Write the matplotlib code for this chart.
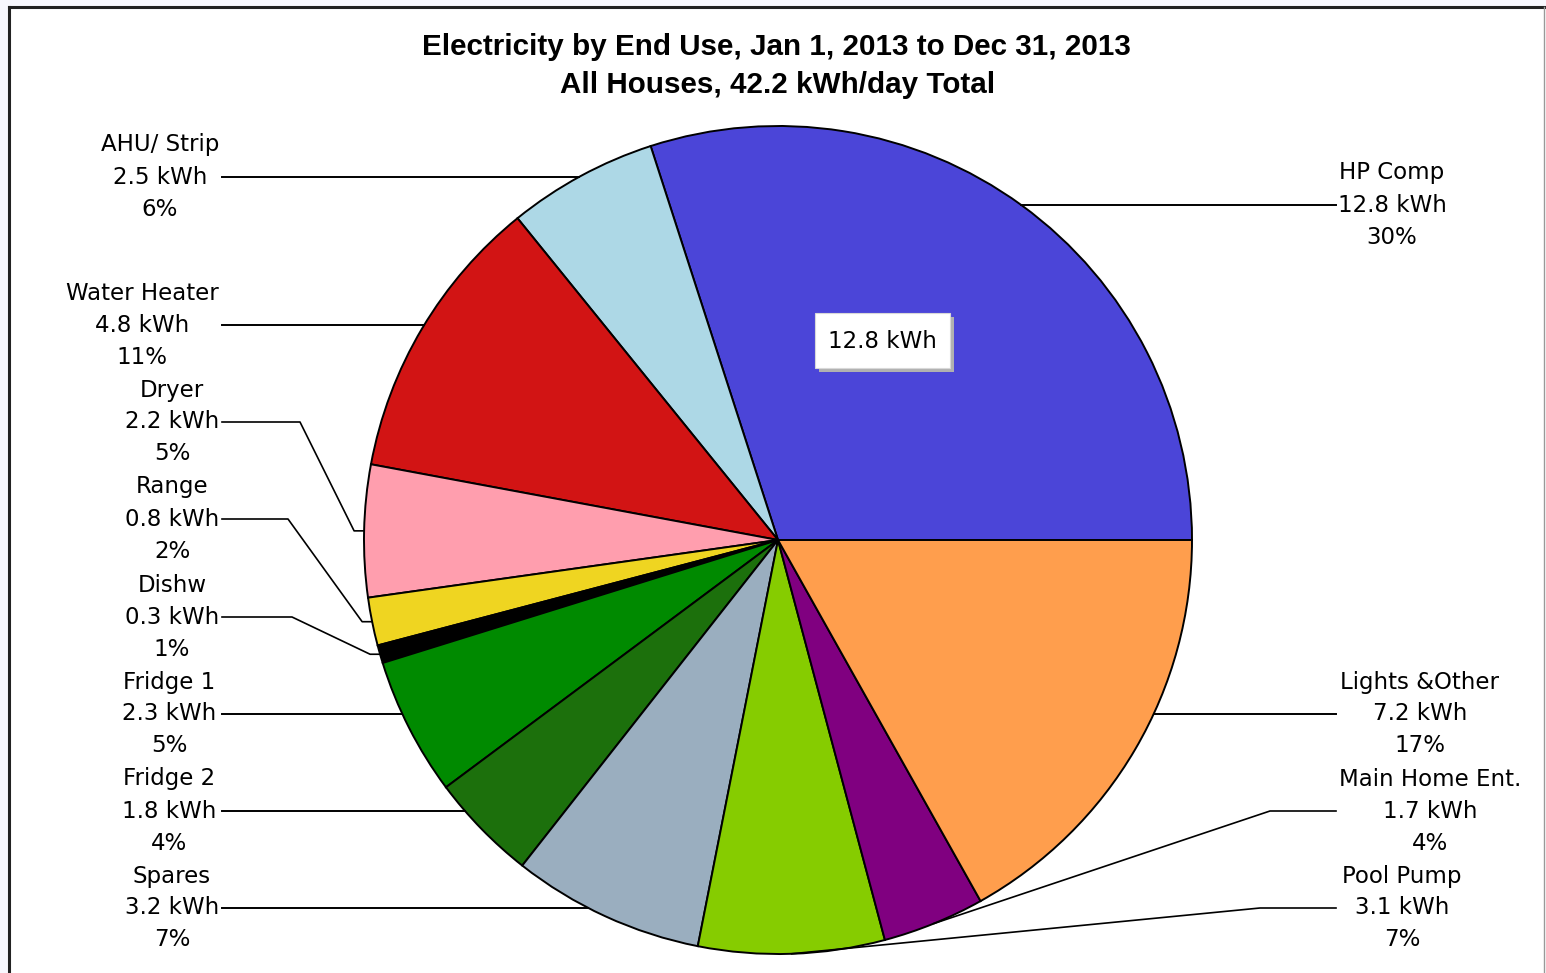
import numpy as np
import matplotlib
matplotlib.use("Agg")
import matplotlib.pyplot as plt
from matplotlib.patches import Rectangle

# end uses, counter-clockwise from 3 o'clock
labels = ["HP Comp", "AHU/ Strip", "Water Heater", "Dryer", "Range", "Dishw",
          "Fridge 1", "Fridge 2", "Spares", "Pool Pump", "Main Home Ent.",
          "Lights &Other"]
kwh = [12.8, 2.5, 4.8, 2.2, 0.8, 0.3, 2.3, 1.8, 3.2, 3.1, 1.7, 7.2]
colors = ["#4b45d8", "#add8e6", "#d21414", "#ff9eae", "#efd521", "#000000",
          "#008a00", "#1c700c", "#9aaebf", "#86cc00", "#800080", "#ff9e4d"]

title1 = "Electricity by End Use, Jan 1, 2013 to Dec 31, 2013"
title2 = "All Houses, 42.2 kWh/day Total"
box_label = "12.8 kWh"

# label layout: side, text centre x, y of kWh line, elbow x (pixels)
layout = [
    ("R", 1392, 205, None),
    ("L", 160, 177, None),
    ("L", 142, 325, None),
    ("L", 172, 422, 300),
    ("L", 172, 519, 288),
    ("L", 172, 617, 292),
    ("L", 169, 714, None),
    ("L", 169, 811, None),
    ("L", 172, 908, None),
    ("R", 1402, 908, 1260),
    ("R", 1430, 811, 1270),
    ("R", 1420, 714, None),
]

W, H = 1546, 973
CX, CY, R = 778, 540, 414
FONT = "DejaVu Sans"
FS = 16.5

fig = plt.figure(figsize=(W / 100, H / 100), dpi=100, facecolor="#f8f8fe")
ax = fig.add_axes([0, 0, 1, 1])

# panel frame
ax.add_patch(Rectangle((9, 7), W, H, facecolor="white", edgecolor="none", zorder=0))
ax.plot([9, W], [7, 7], color="#222222", lw=2.2, zorder=1)
ax.plot([9, 9], [7, H], color="#222222", lw=2.2, zorder=1)
ax.plot([1544, 1544], [7, H], color="#999999", lw=1.0, zorder=1)

# y axis is inverted, so clockwise in data = counter-clockwise on screen
ax.pie(kwh, colors=colors, startangle=0, counterclock=False,
       center=(CX, CY), radius=R,
       wedgeprops=dict(edgecolor="black", linewidth=1.4))

ax.set_xlim(0, W)
ax.set_ylim(H, 0)
ax.set_aspect("equal")
ax.axis("off")

total = sum(kwh)
cum = np.cumsum([0] + kwh)
for i, (name, v) in enumerate(zip(labels, kwh)):
    side, tx, ly, elbow = layout[i]
    pct = round(v / total * 100)
    ax.text(tx, ly - 32, name, ha="center", va="center", fontsize=FS, family=FONT)
    ax.text(tx, ly, f"{v:.1f} kWh", ha="center", va="center", fontsize=FS, family=FONT)
    ax.text(tx, ly + 32, f"{pct}%", ha="center", va="center", fontsize=FS, family=FONT)

    sgn = -1 if side == "L" else 1
    x0 = 222 if side == "L" else 1336
    if elbow is None:
        px = CX + sgn * np.sqrt(R ** 2 - (ly - CY) ** 2)
        ax.plot([x0, px], [ly, ly], color="black", lw=1.4, zorder=3)
    else:
        mid = np.deg2rad((cum[i] + v / 2) / total * 360)
        px = CX + R * np.cos(mid)
        py = CY - R * np.sin(mid)
        if side == "L":
            xs = [x0, elbow, px - 10, px]
            ys = [ly, ly, py, py]
        else:
            xs = [x0, elbow, px]
            ys = [ly, ly, py]
        ax.plot(xs, ys, color="black", lw=1.2, zorder=3)

# boxed value label with shadow
ax.add_patch(Rectangle((819, 317), 135, 55, facecolor="#b0b0b0", edgecolor="none", zorder=4))
ax.add_patch(Rectangle((815, 313), 135, 55, facecolor="white", edgecolor="#d8d8d8",
                       lw=0.8, zorder=5))
ax.text(882, 341, box_label, ha="center", va="center", fontsize=FS, family=FONT, zorder=6)

ax.text(776, 47, title1, ha="center", va="center", fontsize=21.3,
        family="Liberation Sans", fontweight="bold")
ax.text(778, 85, title2, ha="center", va="center", fontsize=21.3,
        family="Liberation Sans", fontweight="bold")

fig.savefig("out.png", dpi=100, facecolor=fig.get_facecolor())
